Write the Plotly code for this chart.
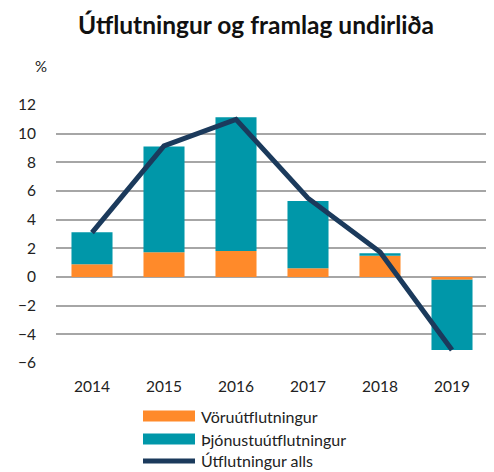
import plotly.graph_objects as go

# Data
years = ["2014", "2015", "2016", "2017", "2018", "2019"]
voru = [0.89, 1.72, 1.82, 0.61, 1.49, -0.20]
thjonustu = [2.23, 7.39, 9.32, 4.70, 0.16, -4.90]
alls = [3.1, 9.15, 11.0, 5.5, 1.75, -5.1]
names = ["Vöruútflutningur", "Þjónustuútflutningur", "Útflutningur alls"]

ORANGE = "#FF8A2A"
TEAL = "#0097A9"
NAVY = "#1B3A5C"
GRID = "#A6A6A6"
FONT = "Lato"

# the page body has an 8px margin, so the figure is drawn 8px in from the corner
OFF = 8
FW, FH = 494 - OFF, 472 - OFF

# plot area in screenshot pixels
L, R, T, B = 56, 488, 105, 363
W, H = R - L, B - T


def px_x(px):
    return (px - L) / W


def px_y(py):
    return (B - py) / H


fig = go.Figure()
fig.add_trace(go.Bar(x=years, y=voru, name=names[0],
                     marker=dict(color=ORANGE, line=dict(width=0))))
fig.add_trace(go.Bar(x=years, y=thjonustu, name=names[1],
                     marker=dict(color=TEAL, line=dict(width=0))))
fig.add_trace(go.Scatter(x=years, y=alls, name=names[2], mode="lines",
                         line=dict(color=NAVY, width=5)))

fig.update_layout(
    width=FW, height=FH,
    barmode="relative",
    bargap=0.43,
    plot_bgcolor="white",
    paper_bgcolor="white",
    font=dict(family=FONT, size=15, color="#222222"),
    title=dict(text="<b>Útflutningur og framlag undirliða</b>",
               x=(256 - OFF) / FW, xanchor="center",
               y=1 - (25 - OFF) / FH, yanchor="middle",
               font=dict(size=24.5, color="#111111")),
    margin=dict(l=L - OFF, r=494 - R, t=T - OFF, b=472 - B),
    showlegend=False,
)
fig.update_xaxes(showgrid=False, showline=False, ticks="", ticklabelstandoff=12,
                 tickfont=dict(size=15.5))
fig.update_yaxes(range=[-6, 12], dtick=2, showgrid=True, gridcolor=GRID, gridwidth=1.5,
                 zeroline=True, zerolinecolor=GRID, zerolinewidth=1.5,
                 ticks="", ticklabelstandoff=19, tickfont=dict(size=15.5))
fig.add_annotation(text="%", xref="paper", yref="paper", x=px_x(49), y=px_y(66),
                   showarrow=False, xanchor="right", yanchor="middle", font=dict(size=15))

# legend drawn by hand so the swatches are wide like the original
rows = [416, 439, 460]
for i, (name, row) in enumerate(zip(names, rows)):
    if i < 2:
        fig.add_shape(type="rect", xref="paper", yref="paper",
                      x0=px_x(143), x1=px_x(195), y0=px_y(row + 5.5), y1=px_y(row - 5.5),
                      fillcolor=[ORANGE, TEAL][i], line=dict(width=0))
    else:
        fig.add_shape(type="line", xref="paper", yref="paper",
                      x0=px_x(143), x1=px_x(195), y0=px_y(row + 1), y1=px_y(row + 1),
                      line=dict(color=NAVY, width=5))
    fig.add_annotation(text=name, xref="paper", yref="paper", x=px_x(199), y=px_y(row),
                       showarrow=False, xanchor="left", yanchor="middle",
                       font=dict(size=16))

fig.write_html("out.html")
